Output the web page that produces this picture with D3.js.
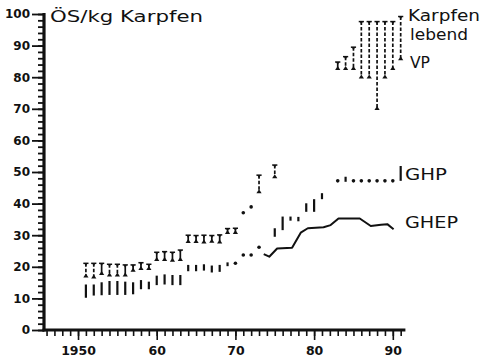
<!DOCTYPE html>
<html>
<head>
<meta charset="utf-8">
<script src="https://cdn.jsdelivr.net/npm/d3@7"></script>
<style>
  body { margin: 0; background: #fff; }
  svg { display: block; }
  text { font-family: "DejaVu Sans", sans-serif; fill: #111; }
</style>
</head>
<body>
<div id="chart"></div>
<script>
// VP (Verbraucherpreis) ranges, Karpfen lebend
const vpYears = [1951,1952,1953,1954,1955,1956,1957,1958,1959,1960,1961,1962,1963,
                 1964,1965,1966,1967,1968,1969,1970,1971,1972,1973,1975,
                 1983,1984,1985,1986,1987,1988,1989,1990,1991];
const vpLow  = [16.6,16.3,17.4,16.9,16.9,16.9,18.4,19.0,19.0,21.8,21.8,21.6,21.8,
                27.5,27.5,27.4,27.6,27.4,30.4,30.4,36.6,38.6,43.3,48.0,
                82.3,82.3,82.3,79.6,79.6,69.6,79.6,82.3,85.4];
const vpHigh = [21.1,21.1,21.1,20.8,20.8,20.6,20.6,21.3,20.8,24.6,24.8,24.6,25.3,
                30.0,29.9,30.0,29.9,30.1,32.1,32.2,37.6,39.3,49.0,52.2,
                84.8,86.5,89.5,97.6,97.6,97.6,97.6,97.6,99.2];

// GHP (Grosshandelspreis) ranges
const ghpYears = [1951,1952,1953,1954,1955,1956,1957,1958,1959,1960,1961,1962,1963,
                  1964,1965,1966,1967,1968,1969,1970,1971,1972,1973,
                  1975,1976,1977,1978,1979,1980,1981,
                  1983,1984,1985,1986,1987,1988,1989,1990,1991];
const ghpLow  = [10.2,10.9,11.0,11.1,11.1,11.1,11.3,12.9,12.9,14.2,14.4,14.2,14.2,
                 18.6,18.6,18.8,18.2,18.4,20.2,20.9,23.2,23.2,26.0,
                 29.5,31.6,34.6,34.4,37.4,37.4,41.4,
                 47.0,46.9,47.0,47.0,47.0,47.0,47.0,47.0,47.2];
const ghpHigh = [14.4,14.4,15.1,15.5,15.5,15.3,15.1,15.8,15.3,17.2,17.6,17.4,17.4,
                 20.6,20.6,20.8,20.4,20.6,21.4,21.3,24.3,24.3,26.4,
                 32.2,35.9,35.9,35.8,40.1,41.4,43.3,
                 47.4,48.5,47.4,47.4,47.4,47.4,47.4,47.4,51.9];

// GHEP line
const ghepYears  = [1973.6,1974.3,1975.3,1977.2,1978.3,1979.2,1981.2,1982.1,1983.1,1985.8,1987.2,1988.5,1989.3,1990.1];
const ghepValues = [24.0,23.2,25.8,26.0,30.8,32.2,32.5,33.2,35.3,35.3,32.9,33.3,33.5,31.9];

const yTicks = [0,10,20,30,40,50,60,70,80,90,100];
const xTicks = [1950,1960,1970,1980,1990];
const xLabels = ["1950","60","70","80","90"];

const W = 492, H = 359;
const ink = "#111";

const svg = d3.select("#chart").append("svg")
    .attr("width", W).attr("height", H);

const x = d3.scaleLinear().domain([1945.6, 1991.6]).range([43.4, 405.4]);
const y = d3.scaleLinear().domain([0, 100]).range([330, 14]);

// y axis: minor ticks every 2, major every 10
svg.append("g")
    .attr("transform", "translate(44,0)")
    .call(d3.axisLeft(y).tickValues(d3.range(0, 101, 2)).tickSize(6).tickFormat(""))
    .call(g => g.select(".domain").remove())
    .selectAll("line").attr("stroke", ink).attr("stroke-width", 1.8);

svg.append("g")
    .attr("transform", "translate(44,0)")
    .call(d3.axisLeft(y).tickValues(yTicks).tickSize(12).tickPadding(2).tickFormat(d => d))
    .call(g => g.select(".domain").remove())
    .call(g => g.selectAll("line").attr("stroke", ink).attr("stroke-width", 1.8))
    .call(g => g.selectAll("text")
        .style("font-size", "12px").style("font-weight", "bold").attr("fill", ink));

// x axis: minor ticks every year
svg.append("g")
    .attr("transform", "translate(0,330)")
    .call(d3.axisBottom(x).tickValues(d3.range(1946, 1992)).tickSize(6).tickFormat(""))
    .call(g => g.select(".domain").remove())
    .selectAll("line").attr("stroke", ink).attr("stroke-width", 1.6);

svg.append("g")
    .attr("transform", "translate(0,330)")
    .call(d3.axisBottom(x).tickValues(xTicks).tickSize(10).tickPadding(6)
        .tickFormat((d, i) => xLabels[i]))
    .call(g => g.select(".domain").remove())
    .call(g => g.selectAll("line").attr("stroke", ink).attr("stroke-width", 1.6))
    .call(g => g.selectAll("text")
        .style("font-size", "12.5px").style("font-weight", "bold").attr("fill", ink));

// axis lines
svg.append("line")
    .attr("x1", 44).attr("x2", 44).attr("y1", y(100) - 1).attr("y2", y(0) + 1.5)
    .attr("stroke", ink).attr("stroke-width", 3.2);
svg.append("line")
    .attr("x1", 42.5).attr("x2", x(1991.6)).attr("y1", y(0)).attr("y2", y(0))
    .attr("stroke", ink).attr("stroke-width", 3);

// GHP bars
const ghp = ghpYears.map((yr, i) => ({yr, lo: ghpLow[i], hi: ghpHigh[i]}));
const gGhp = svg.append("g");
ghp.forEach(d => {
    const top = y(d.hi), bot = y(d.lo), cx = x(d.yr);
    if (bot - top < 3.5) {
        gGhp.append("circle").attr("cx", cx).attr("cy", (top + bot) / 2).attr("r", 1.8).attr("fill", ink);
    } else {
        gGhp.append("line").attr("x1", cx).attr("x2", cx).attr("y1", top).attr("y2", bot)
            .attr("stroke", ink).attr("stroke-width", 2.2);
    }
});

// VP range markers (T cap on top, triangle at the bottom)
const vp = vpYears.map((yr, i) => ({yr, lo: vpLow[i], hi: vpHigh[i]}));
const gVp = svg.append("g");
vp.forEach(d => {
    const top = y(d.hi), bot = y(d.lo), cx = x(d.yr);
    if (bot - top < 4) {
        gVp.append("circle").attr("cx", cx).attr("cy", (top + bot) / 2).attr("r", 1.8).attr("fill", ink);
        return;
    }
    gVp.append("line").attr("x1", cx).attr("x2", cx).attr("y1", top).attr("y2", bot - 2)
        .attr("stroke", ink).attr("stroke-width", 1.7)
        .attr("stroke-dasharray", bot - top > 12 ? "3.5,2" : null);
    gVp.append("line").attr("x1", cx - 2.6).attr("x2", cx + 2.6).attr("y1", top).attr("y2", top)
        .attr("stroke", ink).attr("stroke-width", 1.5);
    gVp.append("path")
        .attr("d", `M${cx - 1.6},${top} L${cx + 1.6},${top} L${cx},${top + 3} Z`)
        .attr("fill", ink);
    gVp.append("path")
        .attr("d", `M${cx - 2.6},${bot} L${cx + 2.6},${bot} L${cx},${bot - 4} Z`)
        .attr("fill", ink);
});

// GHEP line
const ghepData = ghepYears.map((yr, i) => ({yr, v: ghepValues[i]}));
svg.append("path")
    .datum(ghepData)
    .attr("fill", "none")
    .attr("stroke", ink)
    .attr("stroke-width", 2)
    .attr("stroke-linejoin", "round")
    .attr("d", d3.line().x(d => x(d.yr)).y(d => y(d.v)));

// texts
const label = (t, lx, ly, len, size) =>
    svg.append("text").attr("x", lx).attr("y", ly)
        .attr("textLength", len).attr("lengthAdjust", "spacingAndGlyphs")
        .style("font-size", size + "px").text(t);

label("ÖS/kg Karpfen", 50, 22, 153, 16.5);
label("Karpfen", 408, 21, 72, 15.5);
label("lebend", 410, 40, 58, 15.5);
label("VP", 410, 68, 20, 16.5);
label("GHP", 405, 180, 42, 16.5);
label("GHEP", 405, 228, 53, 16.5);
</script>
</body>
</html>
